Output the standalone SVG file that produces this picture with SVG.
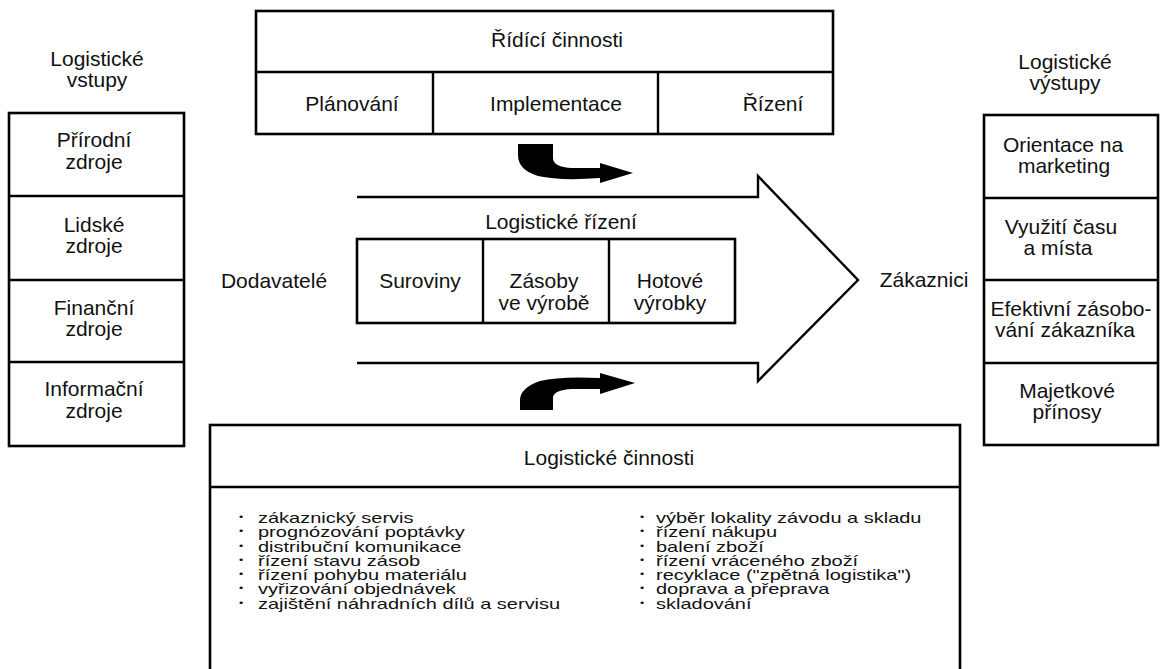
<svg xmlns="http://www.w3.org/2000/svg" width="1163" height="669" viewBox="0 0 1163 669">
<style>
.box{fill:none;stroke:#000;stroke-width:2.6}
.ln{fill:none;stroke:#000;stroke-width:2.4}
.t{font-family:"Liberation Sans",Arial,sans-serif;font-size:21px;fill:#111;text-anchor:middle}
.b{font-family:"Liberation Sans",Arial,sans-serif;font-size:20px;fill:#111}
.d{font-size:12px}
.blk{fill:#000}
</style>
<rect width="1163" height="669" fill="#fff"/>

<g id="inputs-title"><text class="t" x="97" y="66">Logistické</text><text class="t" x="97" y="87">vstupy</text></g>
<g id="inputs">
<rect class="box" x="9" y="113" width="175" height="333"/>
<line class="ln" x1="9" y1="196" x2="184" y2="196"/>
<line class="ln" x1="9" y1="280" x2="184" y2="280"/>
<line class="ln" x1="9" y1="362" x2="184" y2="362"/>
<g id="in1"><text class="t" x="94" y="147">Přírodní</text><text class="t" x="94" y="168.5">zdroje</text></g>
<g id="in2"><text class="t" x="94" y="232">Lidské</text><text class="t" x="94" y="253">zdroje</text></g>
<g id="in3"><text class="t" x="94" y="315">Finanční</text><text class="t" x="94" y="336">zdroje</text></g>
<g id="in4"><text class="t" x="94" y="396">Informační</text><text class="t" x="94" y="417.5">zdroje</text></g>
</g>

<g id="control">
<rect class="box" x="256" y="11" width="577" height="123"/>
<line class="ln" x1="256" y1="72" x2="833" y2="72"/>
<line class="ln" x1="433" y1="72" x2="433" y2="134"/>
<line class="ln" x1="658" y1="72" x2="658" y2="134"/>
<text class="t" x="557" y="47">Řídící činnosti</text>
<text class="t" x="352" y="111">Plánování</text>
<text class="t" x="556" y="111">Implementace</text>
<text class="t" x="773" y="111">Řízení</text>
</g>

<g id="connectors">
<path class="blk" d="M518,144 L553,144 L553,158 Q553,167 572,168 L600,168 L600,163 L633,173 L600,183 L600,178 Q560,181 538,176 Q518,170 518,155 Z"/>
<path class="blk" d="M520,410 L553,410 L553,398 Q553,390 572,389 L600,389 L600,394 L635,383 L600,373 L600,378 Q560,376 540,381 Q520,388 520,400 Z"/>
</g>

<g id="flow">
<polyline class="ln" points="357,197 758,197 758,176 858,280 758,381 758,363 357,363"/>
<text class="t" x="561" y="229">Logistické řízení</text>
</g>

<g id="suppliers"><text class="t" x="274" y="288">Dodavatelé</text></g>
<g id="customers"><text class="t" x="924" y="287">Zákaznici</text></g>

<g id="stocks">
<rect class="box" x="357" y="239" width="378" height="84"/>
<line class="ln" x1="483" y1="239" x2="483" y2="323"/>
<line class="ln" x1="609" y1="239" x2="609" y2="323"/>
<text class="t" x="420" y="288">Suroviny</text>
<text class="t" x="544" y="288">Zásoby</text><text class="t" x="544" y="310">ve výrobě</text>
<text class="t" x="670" y="288">Hotové</text><text class="t" x="670" y="310">výrobky</text>
</g>

<g id="outputs-title"><text class="t" x="1065" y="69">Logistické</text><text class="t" x="1065" y="90">výstupy</text></g>
<g id="outputs">
<rect class="box" x="984" y="115" width="174" height="330"/>
<line class="ln" x1="984" y1="198" x2="1158" y2="198"/>
<line class="ln" x1="984" y1="280" x2="1158" y2="280"/>
<line class="ln" x1="984" y1="363" x2="1158" y2="363"/>
<g id="out1"><text class="t" x="1063" y="152">Orientace na</text><text class="t" x="1064" y="173">marketing</text></g>
<g id="out2"><text class="t" x="1061" y="234">Využití času</text><text class="t" x="1058" y="255">a místa</text></g>
<g id="out3"><text class="t" x="1071" y="316">Efektivní zásobo-</text><text class="t" x="1065" y="337">vání zákazníka</text></g>
<g id="out4"><text class="t" x="1067" y="398">Majetkové</text><text class="t" x="1067" y="419">přínosy</text></g>
</g>

<g id="activities">
<rect class="box" x="210" y="425" width="750" height="260"/>
<line class="ln" x1="210" y1="487" x2="960" y2="487"/>
<text class="t" x="609" y="465">Logistické činnosti</text>
<g transform="matrix(1,0,0,0.7,0,0)">
<text class="b"><tspan class="d" x="239" y="742.9">•</tspan><tspan x="258" y="747.1">zákaznický servis</tspan><tspan class="d" x="239" y="763.3">•</tspan><tspan x="258" y="767.6">prognózování poptávky</tspan><tspan class="d" x="239" y="783.7">•</tspan><tspan x="258" y="788">distribuční komunikace</tspan><tspan class="d" x="239" y="804.1">•</tspan><tspan x="258" y="808.4">řízení stavu zásob</tspan><tspan class="d" x="239" y="824.6">•</tspan><tspan x="258" y="828.9">řízení pohybu materiálu</tspan><tspan class="d" x="239" y="845">•</tspan><tspan x="258" y="849.3">vyřizování objednávek</tspan><tspan class="d" x="239" y="865.4">•</tspan><tspan x="258" y="869.7">zajištění náhradních dílů a servisu</tspan></text>
<text class="b"><tspan class="d" x="640" y="742.9">•</tspan><tspan x="656" y="747.1">výběr lokality závodu a skladu</tspan><tspan class="d" x="640" y="763.3">•</tspan><tspan x="656" y="767.6">řízení nákupu</tspan><tspan class="d" x="640" y="783.7">•</tspan><tspan x="656" y="788">balení zboží</tspan><tspan class="d" x="640" y="804.1">•</tspan><tspan x="656" y="808.4">řízení vráceného zboží</tspan><tspan class="d" x="640" y="824.6">•</tspan><tspan x="656" y="828.9">recyklace ("zpětná logistika")</tspan><tspan class="d" x="640" y="845">•</tspan><tspan x="656" y="849.3">doprava a přeprava</tspan><tspan class="d" x="640" y="865.4">•</tspan><tspan x="656" y="869.7">skladování</tspan></text>
</g>
</g>
</svg>
